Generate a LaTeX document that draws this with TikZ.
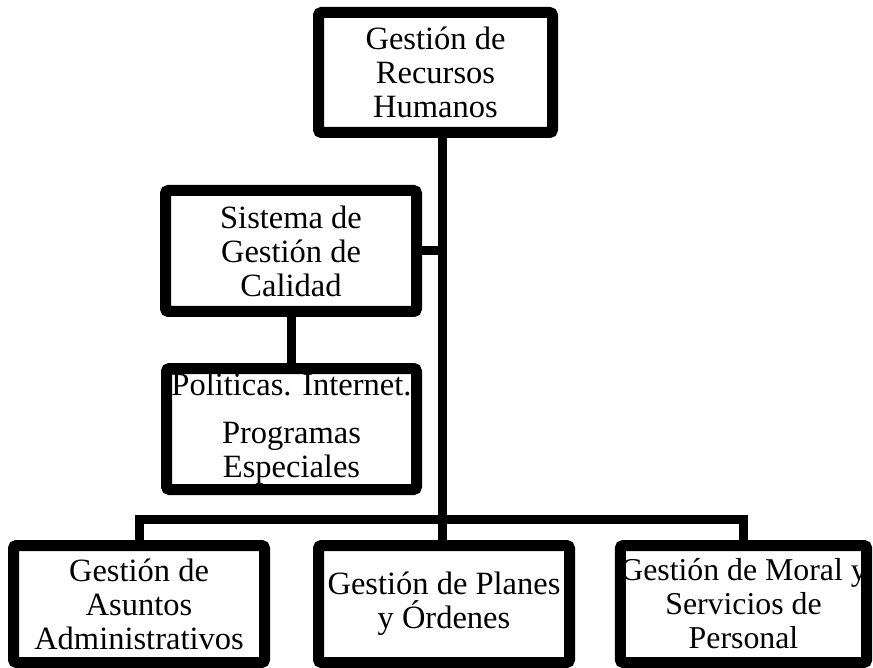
\documentclass[tikz,border=0pt]{standalone}
\usepackage{fontspec}
\setmainfont{Liberation Serif}
\begin{document}
\begin{tikzpicture}[x=1pt,y=-1pt,
	caja/.style={draw,line width=11pt,rounded corners=3pt,inner sep=0pt,align=center,
		font=\fontsize{32.5}{34}\selectfont,minimum width=251pt,minimum height=117pt},
	linea/.style={line width=9pt}]
	\useasboundingbox (0,0) rectangle (873,668);
	\node[caja,minimum width=234pt,minimum height=120pt] (rrhh) at (435.5,72.5) {Gestión de\\Recursos\\Humanos};
	\node[caja,minimum height=121pt] (sgc) at (291,251) {Sistema de\\Gestión de\\Calidad};
	\node[caja,minimum width=250pt,minimum height=121pt] (pol) at (291.5,429) {Politicas. Internet.\\[14pt]Programas\\Especiales};
	\node[caja] (asuntos) at (139,604) {Gestión de\\Asuntos\\Administrativos};
	\node[caja] (planes) at (444,604) {Gestión de Planes\\y Órdenes};
	\node[caja,minimum width=242pt,font=\fontsize{31.8}{34}\selectfont] (moral) at (743.5,604) {Gestión de Moral y\\Servicios de\\Personal};
	\coordinate (bus) at (442,519);
	\draw[linea] (rrhh.south -| bus)--(planes.north -| bus);
	\draw[linea] (sgc.east)--(sgc.east -| bus);
	\draw[linea] (sgc.south)--(sgc.south |- pol.north);
	\draw[linea] (asuntos.north) |- (bus) -| (moral.north);
\end{tikzpicture}
\end{document}
